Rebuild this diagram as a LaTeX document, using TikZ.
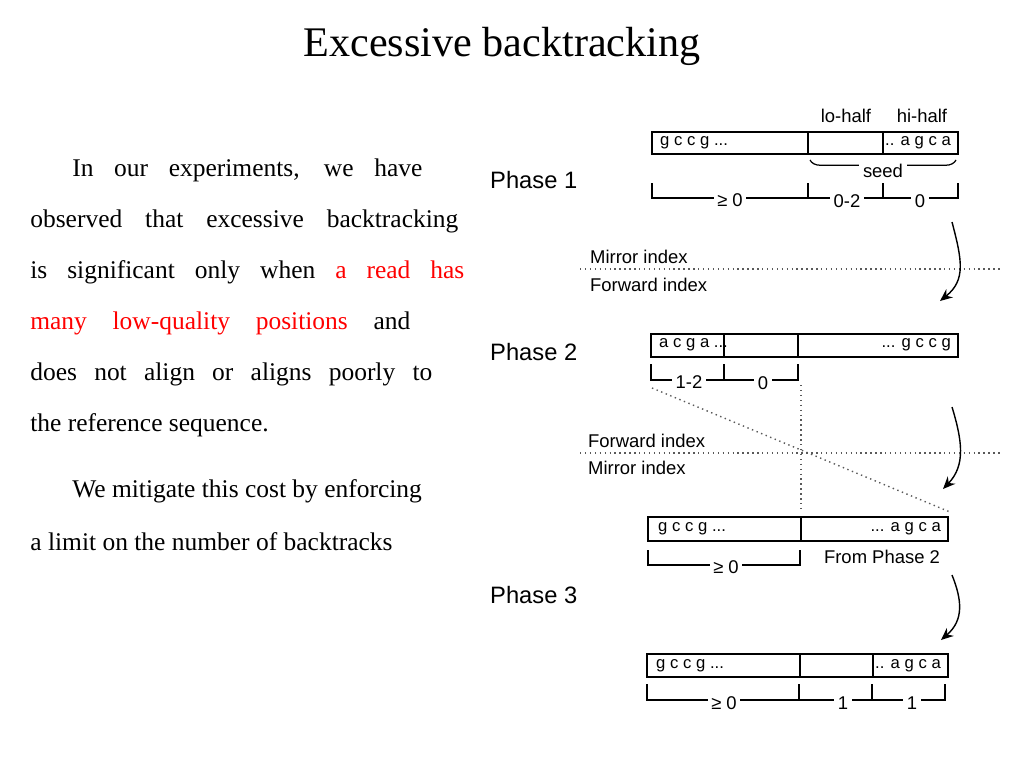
\documentclass[tikz,border=0pt]{standalone}
\usepackage{fontspec}
\setmainfont{Liberation Serif}
\newfontfamily\diagfont{Liberation Sans}
\usetikzlibrary{arrows.meta,decorations.pathreplacing}
\newdimen\tlunit \tlunit=0.02cm
\tikzset{
  seqtxt/.style={font=\diagfont\fontsize{9.5}{11}\selectfont},
  phase/.style={font=\diagfont\fontsize{13.5}{16}\selectfont,anchor=west},
  idx/.style={font=\diagfont\fontsize{10.5}{12}\selectfont,anchor=west},
  measure/.style={font=\diagfont\fontsize{10.5}{12}\selectfont,fill=white,inner sep=2pt},
  bracket/.style={line width=0.7pt},
  dots/.style={dotted,line width=0.8pt,gray!70!black},
  flow/.style={-{Stealth[length=7pt,width=6pt]},line width=0.8pt},
  body/.style={font=\fontsize{14.5}{16}\selectfont,anchor=west,inner sep=0pt},
}
\newcommand\tline[4]{\node[body] at (#1,#2) {\makebox[#3\tlunit][s]{#4}};}
\begin{document}
\begin{tikzpicture}[x=0.02cm,y=-0.02cm]
\useasboundingbox (0,0) rectangle (1024,768);
% title
\node[font=\fontsize{24}{28}\selectfont] (title) at (502,46) {Excessive backtracking};
% left text
\tline{72}{170}{350}{In our experiments, we have}
\tline{30}{221}{428}{observed that excessive backtracking}
\tline{30}{272}{434}{is significant only when \textcolor{red}{a read has}}
\tline{30}{323}{380}{\textcolor{red}{many low-quality positions} and}
\tline{30}{374}{402}{does not align or aligns poorly to}
\node[body] at (30,425) {the reference sequence.};
\node[body] at (72,491) {We mitigate this cost by enforcing};
\node[body] at (30,542) {a limit on the number of backtracks};
% phase labels
\node[phase] (p1) at (484,180) {Phase 1};
\node[phase] (p2) at (484,352) {Phase 2};
\node[phase] (p3) at (484,595) {Phase 3};
% index boundaries
\draw[dots] (580,269) -- (1002,269);
\node[idx] at (584,257) {Mirror index};
\node[idx] at (584,285) {Forward index};
\draw[dots] (580,453) -- (1002,453);
\node[idx] at (582,441) {Forward index};
\node[idx] at (582,468) {Mirror index};
\draw[dots] (652,388) -- (950,512);
\draw[dots] (801,385) -- (801,510);
% phase 1 read
\draw[line width=0.8pt] (652,132) rectangle (958,154) (808,132) -- (808,154) (883,132) -- (883,154);
\node[seqtxt,anchor=west] at (654,143) {g c c g ...};
\node[seqtxt,anchor=east] at (957,143) {... a g c a};
\node[idx,anchor=center] at (846,116) {lo-half};
\node[idx,anchor=center] at (922,116) {hi-half};
\draw[decorate,decoration={brace,mirror,amplitude=6pt},line width=0.7pt] (810,160) -- (956,160);
\node[measure] at (883,171) {seed};
\draw[bracket] (652,183) |- (958,198) -- (958,183) (808,183) -- (808,198) (883,183) -- (883,198);
\node[measure] at (730,200) {≥ 0};
\node[measure] at (847,201) {0-2};
\node[measure] at (920,201) {0};
% phase 2 read
\draw[line width=0.8pt] (651,334) rectangle (958,357) (724,334) -- (724,357) (798,334) -- (798,357);
\node[seqtxt,anchor=west] at (653,345) {a c g a ...};
\node[seqtxt,anchor=east] at (957,345) {... g c c g};
\draw[bracket] (651,364) |- (798,380) -- (798,364) (724,364) -- (724,380);
\node[measure] at (689,382) {1-2};
\node[measure] at (763,383) {0};
% phase 3 reads
\draw[line width=0.8pt] (648,517) rectangle (948,541) (801,517) -- (801,541);
\node[seqtxt,anchor=west] at (652,529) {g c c g ...};
\node[seqtxt,anchor=east] at (947,529) {... a g c a};
\draw[bracket] (648,550) |- (800,565) -- (800,550);
\node[measure] at (726,567) {≥ 0};
\node[idx,anchor=center] at (882,557) {From Phase 2};
\draw[line width=0.8pt] (647,654) rectangle (948,677) (800,654) -- (800,677) (873,654) -- (873,677);
\node[seqtxt,anchor=west] at (650,666) {g c c g ...};
\node[seqtxt,anchor=east] at (947,666) {... a g c a};
\draw[bracket] (647,684) |- (945,700) -- (945,684) (799,684) -- (799,700) (872,684) -- (872,700);
\node[measure] at (724,703) {≥ 0};
\node[measure] at (843,703) {1};
\node[measure] at (912,703) {1};
% arrows
\coordinate (a1s) at (952,222); \coordinate (a1e) at (940,301);
\draw[flow] (a1s) .. controls (962,260) and (966,280) .. (a1e);
\coordinate (a2s) at (952,407); \coordinate (a2e) at (943,489);
\draw[flow] (a2s) .. controls (962,440) and (966,465) .. (a2e);
\coordinate (a3s) at (952,575); \coordinate (a3e) at (941,640);
\draw[flow] (a3s) .. controls (962,600) and (964,620) .. (a3e);
\end{tikzpicture}
\end{document}
